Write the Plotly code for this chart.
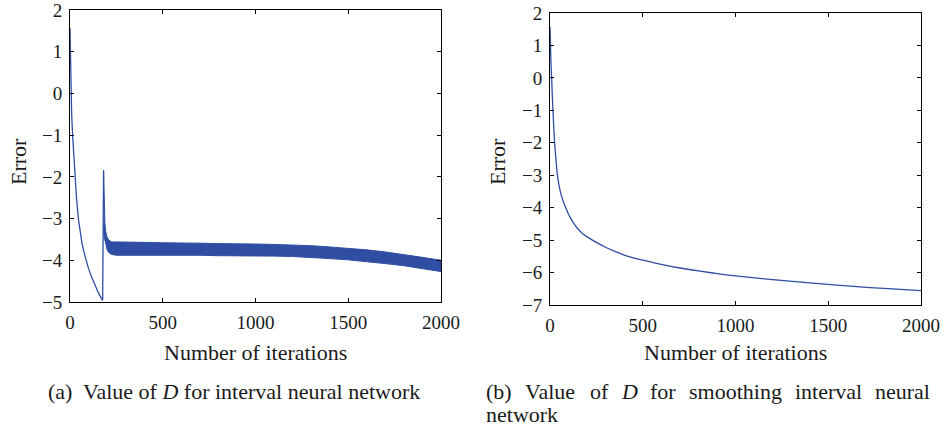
import plotly.graph_objects as go

# ---- data ----
# (a) interval neural network: initial decay then spike
a_x = [0, 2, 4, 6, 9, 14, 20, 27, 35, 45, 55, 65, 75, 86, 100, 115, 126, 140, 155, 168, 176, 181]
a_y = [1.56, 1.0, 0.4, 0.0, -0.5, -1.0, -1.5, -2.0, -2.5, -3.0, -3.35, -3.6, -3.8, -4.0,
       -4.2, -4.38, -4.5, -4.65, -4.8, -4.9, -4.96, -1.84]
# oscillation band envelope after the spike
band_x = [181, 183, 185, 188, 192, 200, 210, 225, 250, 300, 400, 500, 600, 700, 800, 900,
          1000, 1100, 1200, 1300, 1400, 1500, 1600, 1700, 1800, 1900, 2000]
band_hi = [-1.84, -2.3, -2.7, -3.1, -3.3, -3.45, -3.52, -3.56, -3.56, -3.56, -3.57, -3.58,
           -3.58, -3.59, -3.6, -3.6, -3.61, -3.62, -3.63, -3.65, -3.68, -3.71, -3.75, -3.8,
           -3.86, -3.93, -4.0]
band_lo = [-3.2, -3.35, -3.45, -3.55, -3.62, -3.75, -3.82, -3.86, -3.88, -3.88, -3.87, -3.87,
           -3.88, -3.88, -3.89, -3.89, -3.9, -3.9, -3.91, -3.93, -3.96, -3.99, -4.03, -4.08,
           -4.13, -4.2, -4.27]
# (b) smoothing interval neural network
b_x = [0, 2, 5, 9, 12, 16, 20, 25, 32, 40, 50, 60, 72, 85, 100, 115, 130, 150, 170, 200,
       229, 260, 300, 350, 400, 450, 500, 600, 700, 800, 900, 1000, 1200, 1400, 1600, 1800, 2000]
b_y = [1.57, 1.2, 0.5, 0.0, -0.5, -1.0, -1.5, -2.0, -2.5, -3.0, -3.35, -3.6, -3.82, -4.0,
       -4.2, -4.36, -4.5, -4.65, -4.77, -4.9, -5.0, -5.1, -5.22, -5.35, -5.46, -5.55, -5.62,
       -5.75, -5.86, -5.95, -6.03, -6.1, -6.22, -6.32, -6.41, -6.49, -6.56]

x_ticks = [0, 500, 1000, 1500, 2000]
a_yticks = [2, 1, 0, -1, -2, -3, -4, -5]
b_yticks = [2, 1, 0, -1, -2, -3, -4, -5, -6, -7]

x_title = "Number of iterations"
y_title = "Error"
caption_a = ["(a)", "Value of <i>D</i> for interval neural network"]
caption_b_line1 = ["(b)", "Value", "of", "<i>D</i>", "for", "smoothing", "interval", "neural"]
caption_b_line2 = "network"

BLUE = "#2F4EA3"
FONT = "Liberation Serif"
TXT = "#1a1a1a"
W, H = 945, 428

fig = go.Figure()
fig.add_trace(go.Scatter(x=a_x, y=a_y, mode="lines", line=dict(color=BLUE, width=1.3),
                         xaxis="x", yaxis="y", showlegend=False))
fig.add_trace(go.Scatter(x=band_x + band_x[::-1], y=band_hi + band_lo[::-1], mode="lines",
                         fill="toself", fillcolor=BLUE, line=dict(color=BLUE, width=1),
                         xaxis="x", yaxis="y", showlegend=False))
fig.add_trace(go.Scatter(x=b_x, y=b_y, mode="lines", line=dict(color=BLUE, width=1.3, shape="spline"),
                         xaxis="x2", yaxis="y2", showlegend=False))

def px_x(p):
    return p / W

def px_y(p):
    return 1 - p / H

axis_common = dict(showgrid=False, zeroline=False, showline=True, linecolor="black",
                   linewidth=1, mirror="ticks", ticks="inside", ticklen=4, automargin=False,
                   ticklabeloverflow="allow",
                   tickcolor="black", tickfont=dict(family=FONT, size=19, color=TXT))

fig.update_layout(
    width=W, height=H, margin=dict(l=0, r=0, t=0, b=0, autoexpand=False),
    paper_bgcolor="white", plot_bgcolor="white",
    xaxis=dict(domain=[px_x(70), px_x(441)], range=[0, 2000], tickvals=x_ticks,
               anchor="y", ticklabelstandoff=3, **axis_common),
    yaxis=dict(domain=[px_y(302), px_y(10)], range=[-5, 2], tickvals=a_yticks,
               anchor="x", ticklabelstandoff=3, **axis_common),
    xaxis2=dict(domain=[px_x(550), px_x(921)], range=[0, 2000], tickvals=x_ticks,
                anchor="y2", ticklabelstandoff=3, **axis_common),
    yaxis2=dict(domain=[px_y(305), px_y(13)], range=[-7, 2], tickvals=b_yticks,
                anchor="x2", ticklabelstandoff=3, **axis_common),
)

ann = []
tf = dict(family=FONT, size=22, color=TXT)

def add_text(text, xp, yp, xanchor="left", angle=0):
    ann.append(dict(text=text, x=px_x(xp), y=px_y(yp), xref="paper", yref="paper",
                    showarrow=False, font=tf, xanchor=xanchor, yanchor="middle",
                    textangle=angle, borderpad=0, borderwidth=0))

# axis titles
add_text(x_title, 255, 352, "center")
add_text(x_title, 735, 352, "center")
add_text(y_title, 18, 162, "center", -90)
add_text(y_title, 497, 162, "center", -90)
# captions
add_text(caption_a[0], 48, 391)
add_text(caption_a[1], 83, 391)
for w, xp in zip(caption_b_line1, [486, 525, 590, 621, 650, 689, 795, 875]):
    add_text(w, xp, 391)
add_text(caption_b_line2, 486, 414)
fig.update_layout(annotations=ann)

fig.write_html("out.html", config={"displayModeBar": False},
               post_script="document.body.style.margin='0';document.body.style.overflow='hidden';")
